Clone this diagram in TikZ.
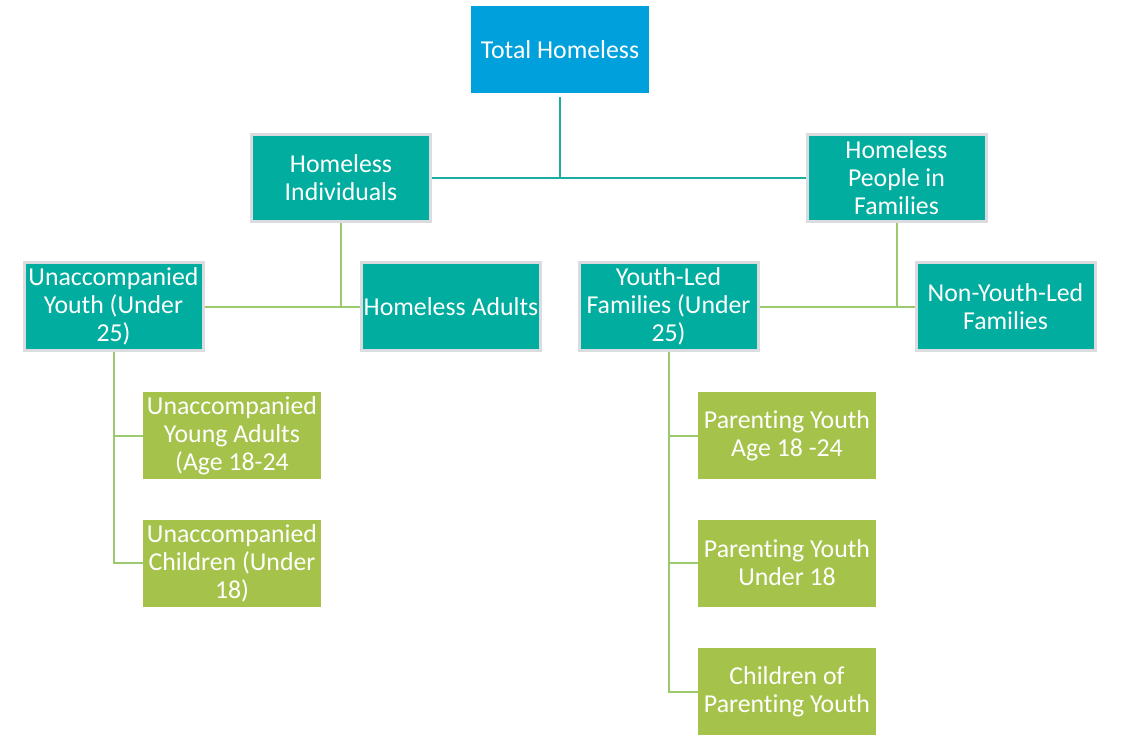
\documentclass[tikz,border=0pt]{standalone}
\usepackage{fontspec}
\setmainfont{Carlito}[Ligatures=NoCommon]
\definecolor{topblue}{RGB}{0,160,220}
\definecolor{tealfill}{RGB}{0,173,158}
\definecolor{tealedge}{RGB}{218,220,224}
\definecolor{greenfill}{RGB}{165,194,74}
\definecolor{tealline}{RGB}{30,172,160}
\definecolor{greenline}{RGB}{155,202,110}
\begin{document}
\begin{tikzpicture}[x=1pt,y=-1pt,
  box/.style={inner sep=0pt,align=center,text=white,font=\fontsize{25.8}{28}\selectfont},
  bluebox/.style={box,fill=topblue,minimum width=178pt,minimum height=87pt},
  tealbox/.style={box,fill=tealfill,draw=tealedge,line width=3pt,minimum width=179pt,minimum height=87pt},
  greenbox/.style={box,fill=greenfill,minimum width=178pt,minimum height=87pt},
  tl/.style={draw=tealline,line width=2pt},
  gl/.style={draw=greenline,line width=2pt}]
\useasboundingbox (0,0) rectangle (1124,755);
\node[bluebox] (total) at (560,49.5) {Total Homeless};
\node[tealbox] (indiv) at (341,177.5) {Homeless\\Individuals};
\node[tealbox] (fam) at (896.5,177.5) {Homeless\\People in\\Families};
\node[tealbox,minimum height=88pt] (uy) at (113.5,306.5) {Unaccompanied\\Youth (Under\\25)};
\node[tealbox,minimum height=88pt] (adults) at (451,306.5) {Homeless Adults};
\node[tealbox,minimum height=88pt] (yl) at (668.5,306.5) {Youth-Led\\Families (Under\\25)};
\node[tealbox,minimum height=88pt] (nyl) at (1005.5,306.5) {Non-Youth-Led\\Families};
\node[greenbox] (uya) at (232,435.5) {Unaccompanied\\Young Adults\\(Age 18-24};
\node[greenbox] (uc) at (232,563) {Unaccompanied\\Children (Under\\18)};
\node[greenbox] (py1) at (787,435.5) {Parenting Youth\\Age 18 -24};
\node[greenbox] (py2) at (787,563) {Parenting Youth\\Under 18};
\node[greenbox] (cpy) at (787,691.5) {Children of\\Parenting Youth};
\coordinate (j1) at (560,178);
\draw[tl,shorten <=4pt] (total.south) -- (j1);
\draw[tl] (indiv.east) -- (fam.west);
\draw[gl] (indiv.south) -- (indiv.south |- uy.east);
\draw[gl] (uy.east) -- (adults.west);
\draw[gl] (fam.south) -- (fam.south |- yl.east);
\draw[gl] (yl.east) -- (nyl.west);
\draw[gl] (uy.south) -- (uy.south |- uc.west) -- (uc.west);
\draw[gl] (uy.south |- uya.west) -- (uya.west);
\draw[gl] (yl.south) -- (yl.south |- cpy.west) -- (cpy.west);
\draw[gl] (yl.south |- py1.west) -- (py1.west);
\draw[gl] (yl.south |- py2.west) -- (py2.west);
\end{tikzpicture}
\end{document}
